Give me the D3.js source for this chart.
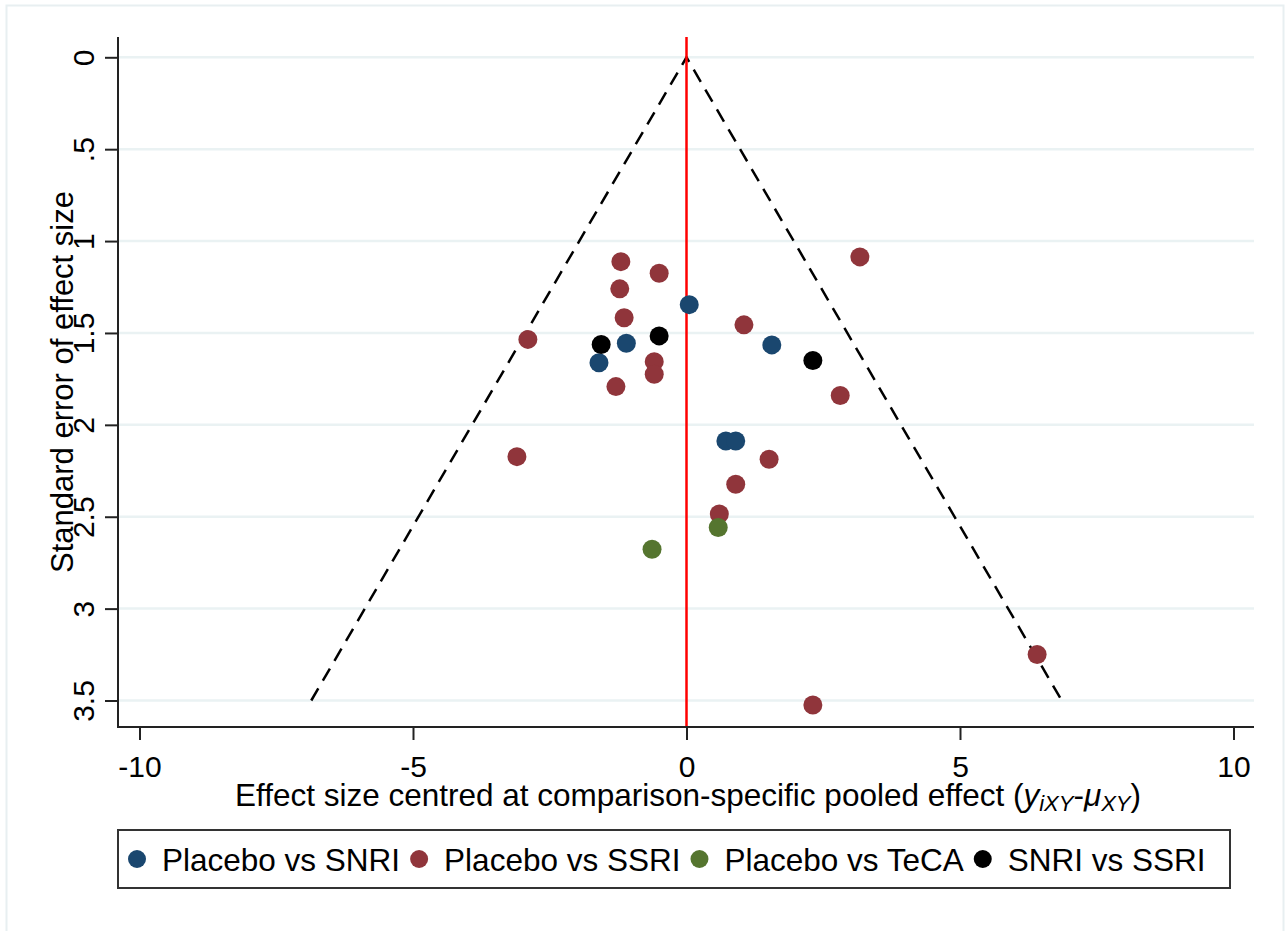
<!DOCTYPE html>
<html>
<head>
<meta charset="utf-8">
<script src="https://cdn.jsdelivr.net/npm/d3@7"></script>
<style>
  html, body { margin: 0; padding: 0; background: #fff; }
  svg { display: block; font-family: "Liberation Sans", Arial, sans-serif; }
</style>
</head>
<body>
<div id="chart"></div>
<script>
// series names and their effect / standard error pairs
const seriesNames = ["Placebo vs SNRI", "Placebo vs SSRI", "Placebo vs TeCA", "SNRI vs SSRI"]
const seriesColors = ["#1a476f", "#90353b", "#55752f", "#000000"]

const placeboSnriEffect = [0.05, -1.10, -1.60, 1.56, 0.72, 0.90]
const placeboSnriSE = [1.346, 1.556, 1.662, 1.565, 2.088, 2.088]

const placeboSsriEffect = [-1.20, -0.50, -1.22, -1.14, -2.90, -0.59, -0.59, -1.29, 1.05, 2.81, 3.17, 6.41, 2.31, -3.10, 1.51, 0.90, 0.60]
const placeboSsriSE = [1.112, 1.175, 1.260, 1.417, 1.535, 1.656, 1.725, 1.792, 1.456, 1.840, 1.086, 3.250, 3.524, 2.173, 2.187, 2.323, 2.485]

const placeboTecaEffect = [0.58, -0.63]
const placeboTecaSE = [2.559, 2.677]

const snriSsriEffect = [-1.56, -0.50, 2.31]
const snriSsriSE = [1.563, 1.516, 1.650]

const xTicks = [-10, -5, 0, 5, 10]
const yTicks = [0, 0.5, 1, 1.5, 2, 2.5, 3, 3.5]
const funnelMaxSE = 3.5
const zCrit = 1.96

const effects = [placeboSnriEffect, placeboSsriEffect, placeboTecaEffect, snriSsriEffect]
const ses = [placeboSnriSE, placeboSsriSE, placeboTecaSE, snriSsriSE]

// layout
const width = 1285
const height = 931
const plotLeft = 118
const plotRight = 1254
const plotTop = 37
const plotBottom = 727

const x = d3.scaleLinear().domain([-10, 10]).range([139.5, 1233.5])
const y = d3.scaleLinear().domain([0, 3.5]).range([57.3, 700.5])

const svg = d3.select("#chart").append("svg")
  .attr("width", width)
  .attr("height", height)

// faint outer frame of the graph region
svg.append("rect")
  .attr("x", 6.5).attr("y", 5.5)
  .attr("width", 1277).attr("height", 1000)
  .attr("fill", "none")
  .attr("stroke", "#e8eff1")
  .attr("stroke-width", 2)

// gridlines
svg.append("g").selectAll("line")
  .data(yTicks)
  .enter().append("line")
  .attr("x1", plotLeft).attr("x2", plotRight)
  .attr("y1", d => y(d)).attr("y2", d => y(d))
  .attr("stroke", "#eaf2f3")
  .attr("stroke-width", 2.5)

// funnel (pseudo 95% limits)
const funnel = [[-zCrit * funnelMaxSE, funnelMaxSE], [0, 0], [zCrit * funnelMaxSE, funnelMaxSE]]
svg.append("path")
  .attr("d", d3.line().x(d => x(d[0])).y(d => y(d[1]))(funnel))
  .attr("fill", "none")
  .attr("stroke", "#000")
  .attr("stroke-width", 2.5)
  .attr("stroke-dasharray", "14,9")

// zero line
svg.append("line")
  .attr("x1", x(0)).attr("x2", x(0))
  .attr("y1", plotTop).attr("y2", plotBottom)
  .attr("stroke", "#ff0000")
  .attr("stroke-width", 2.5)

// points
effects.forEach((eff, s) => {
  svg.append("g").selectAll("circle")
    .data(eff.map((e, i) => ({ e, se: ses[s][i] })))
    .enter().append("circle")
    .attr("cx", d => x(d.e))
    .attr("cy", d => y(d.se))
    .attr("r", 9.5)
    .attr("fill", seriesColors[s])
})

// axes
const fmt = d => d === 0 ? "0" : String(d).replace(/^0\./, ".")

const yAxis = svg.append("g")
  .attr("transform", `translate(${plotLeft},0)`)
  .call(d3.axisLeft(y).tickValues(yTicks).tickSize(13).tickFormat(fmt))
yAxis.select(".domain").remove()
yAxis.selectAll(".tick line").attr("stroke", "#222").attr("stroke-width", 2)
yAxis.selectAll(".tick text")
  .attr("x", null).attr("dy", null)
  .attr("transform", "translate(-24,0) rotate(-90)")
  .attr("text-anchor", "middle")
  .attr("font-size", 30)
  .attr("fill", "#000")
  .style("font-family", "Liberation Sans, Arial, sans-serif")

const xAxis = svg.append("g")
  .attr("transform", `translate(0,${plotBottom})`)
  .call(d3.axisBottom(x).tickValues(xTicks).tickSize(13).tickFormat(d => String(d)))
xAxis.select(".domain").remove()
xAxis.selectAll(".tick line").attr("stroke", "#222").attr("stroke-width", 2)
xAxis.selectAll(".tick text")
  .attr("y", 50).attr("dy", null)
  .attr("font-size", 30)
  .attr("fill", "#000")
  .style("font-family", "Liberation Sans, Arial, sans-serif")

svg.append("line")
  .attr("x1", plotLeft).attr("x2", plotLeft)
  .attr("y1", plotTop).attr("y2", plotBottom + 1)
  .attr("stroke", "#222").attr("stroke-width", 2)
svg.append("line")
  .attr("x1", plotLeft - 1).attr("x2", plotRight)
  .attr("y1", plotBottom).attr("y2", plotBottom)
  .attr("stroke", "#222").attr("stroke-width", 2)

// axis titles
svg.append("text")
  .attr("transform", `translate(73,${(plotTop + plotBottom) / 2}) rotate(-90)`)
  .attr("text-anchor", "middle")
  .attr("font-size", 31)
  .text("Standard error of effect size")

const xt = svg.append("text")
  .attr("x", (plotLeft + plotRight) / 2 + 2)
  .attr("y", 806)
  .attr("text-anchor", "middle")
  .attr("font-size", 31.5)
xt.append("tspan").text("Effect size centred at comparison-specific pooled effect (")
xt.append("tspan").attr("font-style", "italic").text("y")
xt.append("tspan").attr("font-style", "italic").attr("font-size", 22).attr("dy", 5).text("iXY")
xt.append("tspan").attr("dy", -5).text("-")
xt.append("tspan").attr("font-style", "italic").text("μ")
xt.append("tspan").attr("font-style", "italic").attr("font-size", 22).attr("dy", 5).text("XY")
xt.append("tspan").attr("dy", -5).text(")")

// legend
const legend = svg.append("g")
svg.append("rect")
  .attr("x", 118).attr("y", 830)
  .attr("width", 1112).attr("height", 58)
  .attr("fill", "none")
  .attr("stroke", "#333")
  .attr("stroke-width", 2)

let lx = 137
seriesNames.forEach((name, i) => {
  legend.append("circle")
    .attr("cx", lx).attr("cy", 859).attr("r", 9)
    .attr("fill", seriesColors[i])
  const t = legend.append("text")
    .attr("x", lx + 25).attr("y", 871)
    .attr("font-size", 31.5)
    .text(name)
  lx = lx + 25 + t.node().getComputedTextLength() + 19
})
</script>
</body>
</html>
